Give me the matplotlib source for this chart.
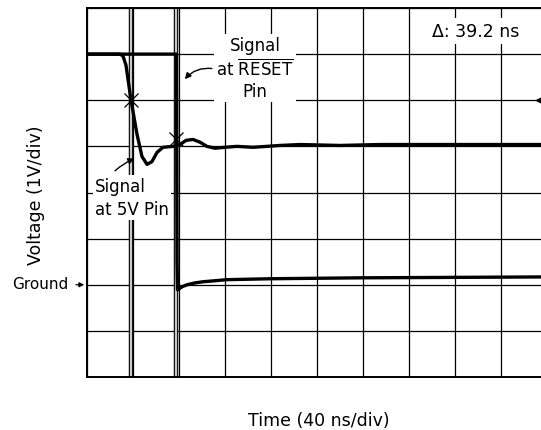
#%%
import matplotlib.pyplot as plt

#%%
# trace values (time in ns, voltage in V, ground = 0)
t_5v = [0, 28.7, 31.3, 33.9, 38.3, 43.5, 47.8, 52.2, 56.5, 60.9, 66.1, 74.8,
        80.9, 86.1, 92.2, 98.3, 104.3, 111.3, 120, 130.4, 144.3, 167.8, 185.2,
        220, 254.8, 300, 350, 400]
v_5v = [5.0, 5.0, 4.96, 4.76, 4.0, 3.26, 2.78, 2.61, 2.67, 2.87, 2.98, 3.0,
        3.04, 3.13, 3.15, 3.09, 3.0, 2.96, 2.98, 3.0, 2.98, 3.02, 3.04,
        3.02, 3.04, 3.04, 3.04, 3.04]

t_reset = [0, 77.8, 78.3, 78.7, 83, 87, 93.9, 100.9, 111.3, 121.7, 159, 237, 320, 400]
v_reset = [5.0, 5.0, 0.5, -0.11, -0.04, 0.0, 0.04, 0.065, 0.087, 0.11, 0.13, 0.15, 0.16, 0.17]

# cursors
cursor_t = [38.3, 77.5]
cursor_v = [4.0, 3.15]
delta_ns = 39.2

#%%
fig = plt.figure(figsize=(5.41, 4.31), dpi=100)
ax = fig.add_axes([87/541, 53/431, 460/541, 369/431])
ax.set_xlim(0, 400)
ax.set_ylim(-2, 6)
ax.set_xticks(range(0, 401, 40))
ax.set_yticks(range(-2, 7))
ax.tick_params(length=0, labelbottom=False, labelleft=False)
ax.grid(True, color='black', lw=0.9)
for s in ['left', 'bottom', 'top']:
    ax.spines[s].set_linewidth(1.4)

# cursor lines
for c in cursor_t:
    ax.axvline(c, color='black', lw=3.2, zorder=2)
    ax.axvline(c, color='#c8c8c8', lw=1.6, zorder=2)

# labels with white background (they hide the grid)
box = dict(facecolor='white', edgecolor='none', pad=1.5)
ax.text(146, 4.7, 'Signal\nat $\\overline{\\mathrm{RESET}}$\nPin', ha='center', va='center',
        fontsize=12, linespacing=1.25, bbox=box, zorder=3)
ax.text(7, 1.9, 'Signal\nat 5V Pin', ha='left', va='center', fontsize=12,
        linespacing=1.35, bbox=box, zorder=3)
ax.text(338, 5.5, '\u0394: %.1f ns' % delta_ns, ha='center', va='center',
        fontsize=12.5, bbox=dict(facecolor='white', edgecolor='none', pad=3), zorder=3)

# traces
ax.plot(t_5v, v_5v, color='black', lw=2.4, zorder=4)
ax.plot(t_reset, v_reset, color='black', lw=2.4, zorder=4)
ax.plot(cursor_t, cursor_v, 'x', color='black', ms=10, mew=0.9, zorder=5)

# arrows
ax.annotate('', xy=(83.5, 4.41), xytext=(111, 4.68),
            arrowprops=dict(arrowstyle='-|>', color='black', lw=1.0,
                            connectionstyle='arc3,rad=0.3', mutation_scale=9), zorder=5)
ax.annotate('', xy=(43.5, 2.76), xytext=(22.6, 2.43),
            arrowprops=dict(arrowstyle='-|>', color='black', lw=1.0,
                            connectionstyle='arc3,rad=-0.1', mutation_scale=9), zorder=5)
ax.annotate('', xy=(0, 0), xytext=(-10, 0), textcoords='offset points',
            arrowprops=dict(arrowstyle='-|>', color='black', lw=0.9, mutation_scale=7),
            annotation_clip=False)
ax.plot([393], [4], marker='<', color='black', ms=5, zorder=5, clip_on=False)

fig.text(68/541, 1 - 285/431, 'Ground', ha='right', va='center', fontsize=11)
fig.text(36/541, 1 - 195/431, 'Voltage (1V/div)', ha='center', va='center',
         rotation=90, fontsize=12.5)
fig.text(319/541, 1 - 421/431, 'Time (40 ns/div)', ha='center', va='center', fontsize=12.5)

plt.savefig('out.png', dpi=100)
